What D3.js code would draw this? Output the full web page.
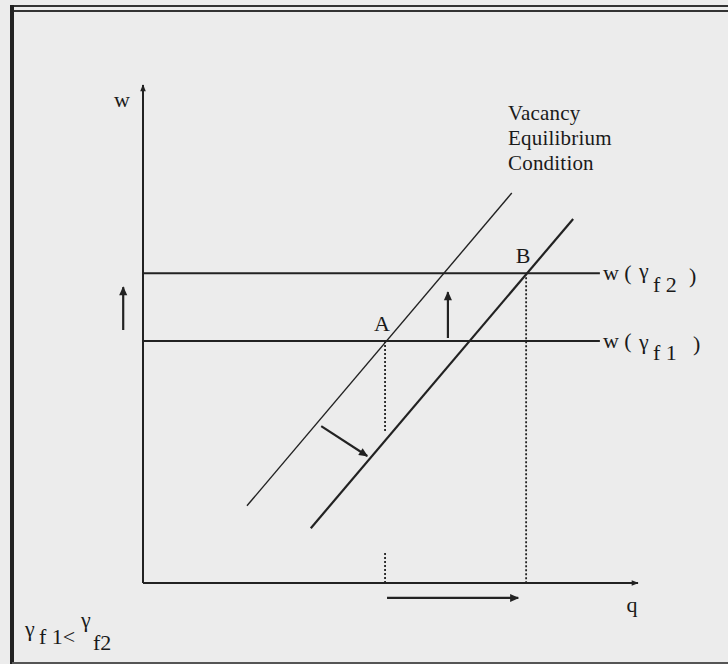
<!DOCTYPE html>
<html>
<head>
<meta charset="utf-8">
<script src="https://cdn.jsdelivr.net/npm/d3@7"></script>
<style>
  body { margin: 0; background: #ececec; }
  text { font-family: "Liberation Serif", "DejaVu Serif", serif; fill: #1a1a1a; }
</style>
</head>
<body>
<svg id="canvas"></svg>
<script>
// wage levels for the two vacancy cost values
const wageLevels = [
  { name: "f 1", w: 4.86 },
  { name: "f 2", w: 6.22 }
];
// vacancy equilibrium condition lines (before / after the shift)
const vecLines = [
  { name: "before", pts: [[2.10, 1.55], [7.45, 7.83]], width: 1.4 },
  { name: "after",  pts: [[3.39, 1.10], [8.69, 7.31]], width: 2.2 }
];
const equilibria = [
  { label: "A", q: 4.89, w: 4.86 },
  { label: "B", q: 7.74, w: 6.22 }
];
// dotted drop lines, [q, wTop, wBottom]
const dropLines = [[4.89, 4.86, 3.01], [4.89, 0.60, 0], [7.74, 6.22, 0]];
// shift arrows [[qFrom, wFrom], [qTo, wTo]]
const shiftArrows = [
  [[-0.40, 5.08], [-0.40, 5.94]],
  [[6.16, 4.92], [6.16, 5.84]],
  [[3.60, 3.15], [4.53, 2.55]],
  [[4.93, -0.30], [7.58, -0.30]]
];
const lineEnd = 9.23;
const vecLabel = ["Vacancy", "Equilibrium", "Condition"];

const width = 728;
const height = 664;
const svg = d3.select("#canvas").attr("width", width).attr("height", height);

const x = d3.scaleLinear().domain([0, 10]).range([143, 638]);
const y = d3.scaleLinear().domain([0, 10]).range([583, 85]);

// frame
svg.append("rect").attr("x", 0).attr("y", 0).attr("width", width).attr("height", height).attr("fill", "#ececec");
svg.append("line").attr("x1", 12).attr("x2", 728).attr("y1", 6).attr("y2", 6).attr("stroke", "#333").attr("stroke-width", 2);
svg.append("line").attr("x1", 12).attr("x2", 728).attr("y1", 11).attr("y2", 11).attr("stroke", "#333").attr("stroke-width", 2);
svg.append("line").attr("x1", 12).attr("x2", 12).attr("y1", 5).attr("y2", 664).attr("stroke", "#222").attr("stroke-width", 4);
svg.append("line").attr("x1", 12).attr("x2", 728).attr("y1", 663).attr("y2", 663).attr("stroke", "#555").attr("stroke-width", 2);

const defs = svg.append("defs");
defs.append("marker").attr("id", "head")
  .attr("viewBox", "0 0 10 10").attr("refX", 9).attr("refY", 5)
  .attr("markerWidth", 11).attr("markerHeight", 9).attr("markerUnits", "userSpaceOnUse")
  .attr("orient", "auto")
  .append("path").attr("d", "M0,0.5 L10,5 L0,9.5 Z").attr("fill", "#222");
defs.append("marker").attr("id", "headSmall")
  .attr("viewBox", "0 0 10 10").attr("refX", 9).attr("refY", 5)
  .attr("markerWidth", 8).attr("markerHeight", 7).attr("markerUnits", "userSpaceOnUse")
  .attr("orient", "auto")
  .append("path").attr("d", "M0,1 L10,5 L0,9 Z").attr("fill", "#222");

const g = svg.append("g");
const line = d3.line().x(d => x(d[0])).y(d => y(d[1]));

// axes
g.append("line").attr("x1", x(0)).attr("y1", y(0)).attr("x2", x(0)).attr("y2", y(10))
  .attr("stroke", "#222").attr("stroke-width", 2).attr("marker-end", "url(#headSmall)");
g.append("line").attr("x1", x(0)).attr("y1", y(0)).attr("x2", x(10)).attr("y2", y(0))
  .attr("stroke", "#222").attr("stroke-width", 2).attr("marker-end", "url(#headSmall)");
g.append("text").attr("x", 122).attr("y", 107).attr("text-anchor", "middle").style("font-size", "22px").text("w");
g.append("text").attr("x", 632).attr("y", 612).attr("text-anchor", "middle").style("font-size", "22px").text("q");

// wage lines
g.selectAll(".wage").data(wageLevels).join("line").attr("class", "wage")
  .attr("x1", x(0)).attr("x2", x(lineEnd))
  .attr("y1", d => y(d.w)).attr("y2", d => y(d.w))
  .attr("stroke", "#222").attr("stroke-width", 2);

const wLab = g.selectAll(".wlab").data(wageLevels).join("text").attr("class", "wlab")
  .attr("y", d => y(d.w) + 7)
  .style("font-size", "22px");
wLab.append("tspan").attr("x", x(lineEnd) + 3).text("w (");
wLab.append("tspan").attr("x", x(lineEnd) + 39).attr("dy", d => d.name === "f 2" ? -2 : 1).text("γ");
wLab.append("tspan").attr("x", x(lineEnd) + 53).attr("dy", d => d.name === "f 2" ? 14 : 11).text(d => d.name);
wLab.append("tspan").attr("x", d => x(lineEnd) + (d.name === "f 2" ? 89 : 93)).attr("dy", -9).text(")");

// vacancy equilibrium lines
g.selectAll(".vec").data(vecLines).join("path").attr("class", "vec")
  .attr("d", d => line(d.pts)).attr("fill", "none")
  .attr("stroke", "#222").attr("stroke-width", d => d.width);

g.selectAll(".vlab").data(vecLabel).join("text").attr("class", "vlab")
  .attr("x", 508).attr("y", (d, i) => 120 + i * 25)
  .style("font-size", "21px").style("letter-spacing", "0.2px").text(d => d);

// dotted drop lines
g.selectAll(".drop").data(dropLines).join("line").attr("class", "drop")
  .attr("x1", d => x(d[0])).attr("x2", d => x(d[0]))
  .attr("y1", d => y(d[1])).attr("y2", d => y(d[2]))
  .attr("stroke", "#222").attr("stroke-width", 1.8).attr("stroke-dasharray", "2,2");

// equilibrium labels
g.selectAll(".eq").data(equilibria).join("text").attr("class", "eq")
  .attr("x", d => x(d.q) - 3).attr("y", d => y(d.w) - 10)
  .attr("text-anchor", "middle").style("font-size", "22px").text(d => d.label);

// shift arrows
g.selectAll(".arrow").data(shiftArrows).join("path").attr("class", "arrow")
  .attr("d", d => line(d)).attr("fill", "none")
  .attr("stroke", "#222").attr("stroke-width", 2.2).attr("marker-end", "url(#head)");

// note
const note = g.append("text").attr("y", 636).style("font-size", "22px");
note.append("tspan").attr("x", 25).text("γ");
note.append("tspan").attr("x", 39).attr("dy", 8).text("f 1<");
note.append("tspan").attr("x", 81).attr("dy", -17).text("γ");
note.append("tspan").attr("x", 93).attr("dy", 23).text("f2");
</script>
</body>
</html>
